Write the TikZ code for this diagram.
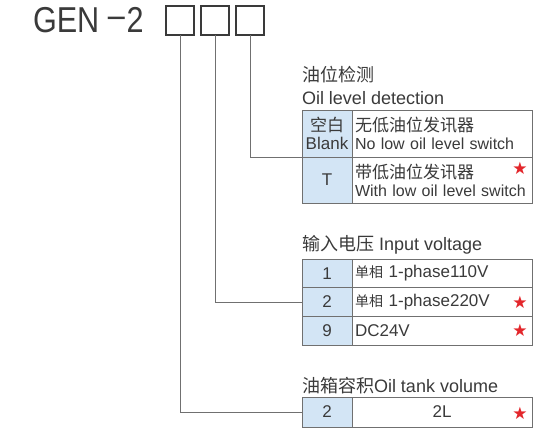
\documentclass[tikz,border=0pt]{standalone}
\usepackage{fontspec}
\setmainfont{Liberation Sans}
\newfontfamily\cjk{Noto Sans CJK SC}
\newfontfamily\symfont{DejaVu Sans}
\usepackage{graphicx}
\usetikzlibrary{positioning}
\definecolor{ink}{HTML}{3A3A3A}
\definecolor{cellblue}{HTML}{D3E5F5}
\definecolor{rulegray}{HTML}{707070}
\definecolor{starred}{HTML}{E3262B}

\begin{document}
\begin{tikzpicture}[x=1pt,y=-1pt,
  every node/.style={inner sep=0pt,outer sep=0pt,text=ink},
  codebox/.style={draw=ink,line width=1.3pt,minimum width=28pt,minimum height=29pt},
  wire/.style={draw=rulegray,line width=0.9pt},
  keycell/.style={draw=rulegray,line width=0.9pt,fill=cellblue,minimum width=50pt,anchor=north west,align=center,font=\fontsize{17}{18}\selectfont},
  desccell/.style={draw=rulegray,line width=0.9pt,fill=white,text width=174pt,inner xsep=3pt,anchor=north west,align=left,font=\fontsize{16}{18}\selectfont},
  head/.style={anchor=west,font=\fontsize{18}{20}\selectfont},
  starmark/.style={text=starred,font=\symfont\fontsize{17}{17}\selectfont}]
  \useasboundingbox (0,0) rectangle (545,430);

  % Model code
  \node[anchor=base west,font=\fontsize{36}{36}\selectfont] (model) at (33,33) {\scalebox{0.85}[1]{GEN \raisebox{5pt}{--}\kern2pt 2}};
  \node[codebox] (box1) at (180,20.5) {};
  \node[codebox] (box2) at (215,20.5) {};
  \node[codebox] (box3) at (250,20.5) {};

  % Oil level detection
  \node[head] (oilhead) at (302,75) {\cjk 油位检测};
  \node[head] (oilheaden) at (302,98) {Oil level detection};
  \node[keycell,minimum height=47pt] (oilkey1) at (302,110) {{\cjk 空白}\\Blank};
  \node[desccell,minimum height=47pt] (oildesc1) at (352,110) {{\cjk\fontsize{17}{18}\selectfont 无低油位发讯器}\\No low oil level switch};
  \node[keycell,minimum height=46pt] (oilkey2) at (302,157) {T};
  \node[desccell,minimum height=46pt] (oildesc2) at (352,157) {{\cjk\fontsize{17}{18}\selectfont 带低油位发讯器}\\With low oil level switch};
  \node[starmark] (oilstar) at (520,168) {★};

  % Input voltage
  \node[head] (volthead) at (302,245) {{\cjk 输入电压} Input voltage};
  \node[keycell,minimum height=28.7pt] (voltkey1) at (302,259) {1};
  \node[desccell,minimum height=28.7pt,font=\fontsize{17}{18}\selectfont] (voltdesc1) at (352,259) {{\cjk\fontsize{14}{18}\selectfont 单相} 1-phase110V};
  \node[keycell,minimum height=28.7pt] (voltkey2) at (302,287.7) {2};
  \node[desccell,minimum height=28.7pt,font=\fontsize{17}{18}\selectfont] (voltdesc2) at (352,287.7) {{\cjk\fontsize{14}{18}\selectfont 单相} 1-phase220V};
  \node[starmark] (voltstar2) at (520,302) {★};
  \node[keycell,minimum height=28.7pt] (voltkey9) at (302,316.4) {9};
  \node[desccell,minimum height=28.7pt,font=\fontsize{17}{18}\selectfont] (voltdesc9) at (352,316.4) {DC24V};
  \node[starmark] (voltstar9) at (520,330.5) {★};

  % Oil tank volume
  \node[head] (tankhead) at (302,386) {{\cjk 油箱容积}Oil tank volume};
  \node[keycell,minimum height=30pt] (tankkey) at (302,397) {2};
  \node[desccell,minimum height=30pt,align=center,font=\fontsize{17}{18}\selectfont] (tankdesc) at (352,397) {2L};
  \node[starmark] (tankstar) at (520,413) {★};

  % Connectors
  \draw[wire] (box1.south) |- (tankkey.west);
  \draw[wire] (box2.south) |- (voltkey2.west);
  \draw[wire] (box3.south) |- (oilkey1.south west);
\end{tikzpicture}
\end{document}
